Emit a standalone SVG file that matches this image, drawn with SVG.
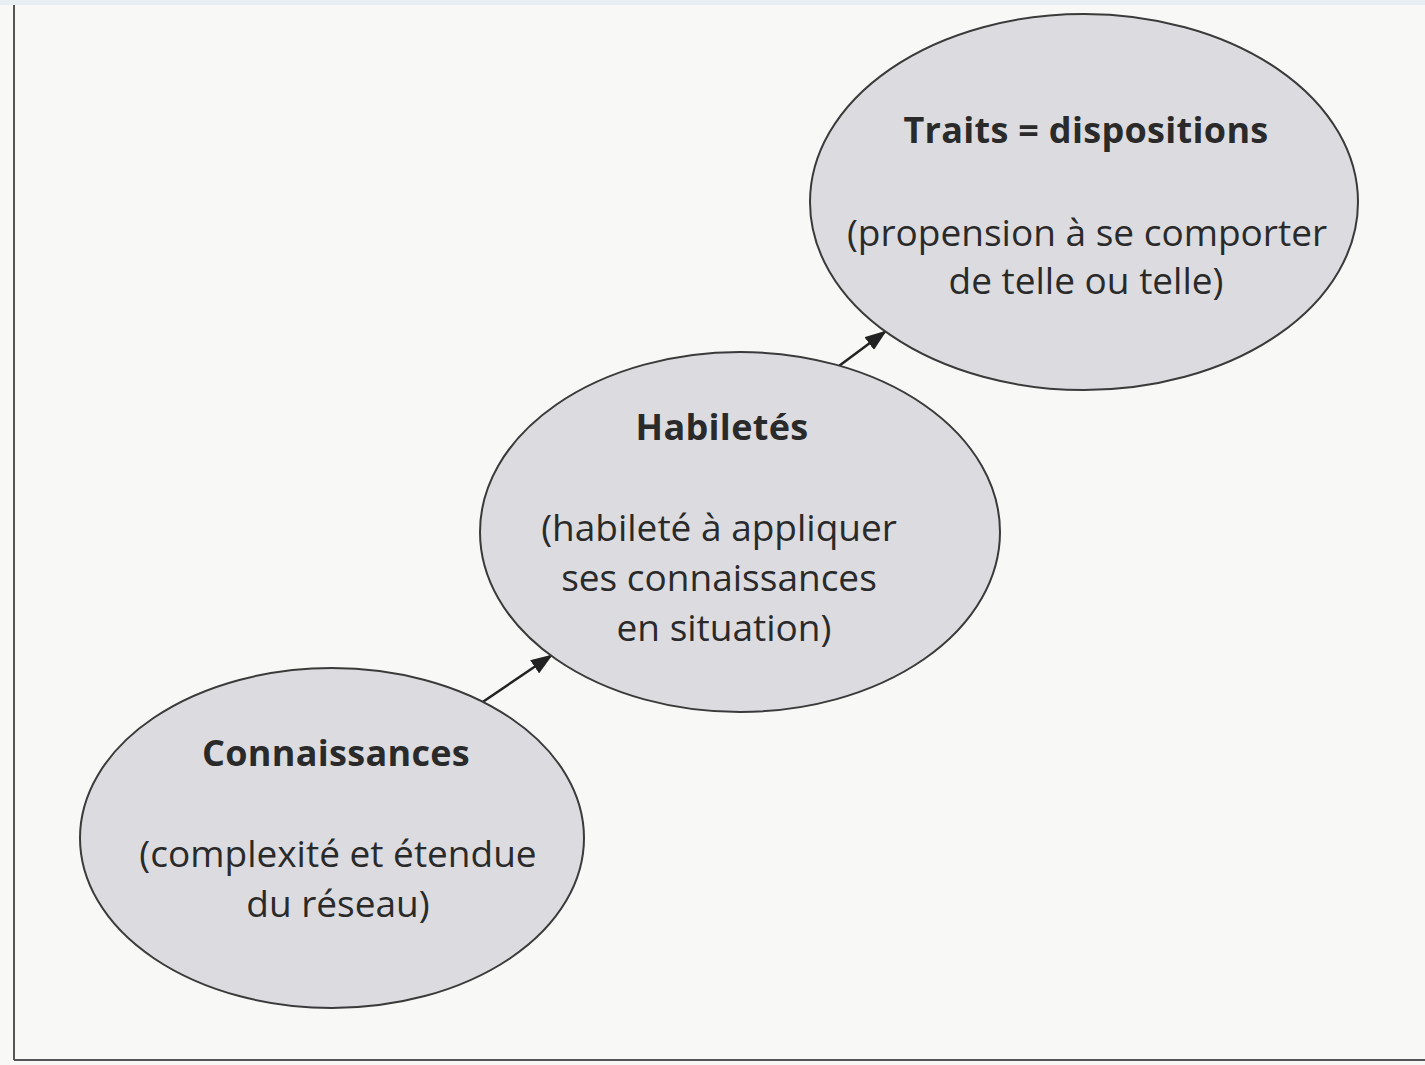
<svg xmlns="http://www.w3.org/2000/svg" width="1425" height="1065" viewBox="0 0 1425 1065">
<defs>
<marker id="ah" viewBox="0 0 22 16" refX="21" refY="8" markerWidth="22" markerHeight="16" markerUnits="userSpaceOnUse" orient="auto">
<path d="M0,0 L22,8 L0,16 z" fill="#222"/>
</marker>
<style>
.node{fill:#dcdce0;stroke:#3a3a3a;stroke-width:2}
.t{font-family:"Open Sans","Noto Sans",sans-serif;fill:#2a2a2a;text-anchor:middle}
.b{font-weight:bold;font-size:36px;letter-spacing:0.3px}
.r{font-size:37px;letter-spacing:0px}
.edge{stroke:#222;stroke-width:2.5;fill:none;marker-end:url(#ah)}
</style>
</defs>
<rect x="0" y="0" width="1425" height="1065" fill="#f8f8f6"/>
<rect x="0" y="0" width="1425" height="5" fill="#e8eef4"/>
<line x1="14" y1="5" x2="14" y2="1060" stroke="#555" stroke-width="2"/>
<line x1="14" y1="1060" x2="1425" y2="1060" stroke="#555" stroke-width="2"/>
<g id="connectors">
<line class="edge" x1="462" y1="716" x2="552" y2="655"/>
<line class="edge" x1="812" y1="386" x2="886" y2="331"/>
</g>
<g id="connaissances">
<ellipse class="node" cx="332" cy="838" rx="252" ry="170"/>
<text class="t b" x="336" y="766">Connaissances</text>
<text class="t r" x="338" y="867">(complexité et étendue</text>
<text class="t r" x="338" y="917">du réseau)</text>
</g>
<g id="habiletes">
<ellipse class="node" cx="740" cy="532" rx="260" ry="180"/>
<text class="t b" x="722" y="440">Habiletés</text>
<text class="t r" x="719" y="541">(habileté à appliquer</text>
<text class="t r" x="719" y="591">ses connaissances</text>
<text class="t r" x="724" y="641">en situation)</text>
</g>
<g id="traits">
<ellipse class="node" cx="1084" cy="202" rx="274" ry="188"/>
<text class="t b" x="1086" y="143">Traits = dispositions</text>
<text class="t r" x="1087" y="246">(propension à se comporter</text>
<text class="t r" x="1086" y="294">de telle ou telle)</text>
</g>
</svg>
